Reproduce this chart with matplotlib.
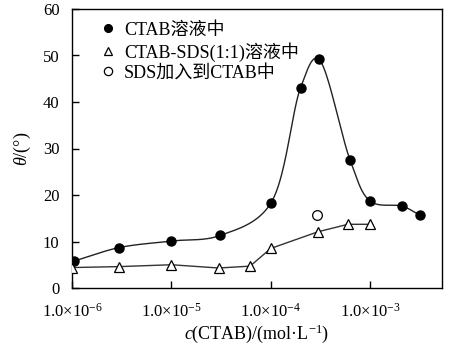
import numpy as np
import matplotlib
matplotlib.use("Agg")
import matplotlib.pyplot as plt

plt.rcParams['font.family'] = ['Liberation Serif', 'Noto Sans CJK SC']
plt.rcParams['mathtext.fontset'] = 'custom'
plt.rcParams['mathtext.rm'] = 'Liberation Serif'
plt.rcParams['mathtext.it'] = 'Liberation Serif:italic'
plt.rcParams['axes.unicode_minus'] = False

# ---- data ----
ctab_c = [1.05e-6, 3.0e-6, 1.0e-5, 3.1e-5, 1.0e-4, 2.0e-4, 3.05e-4, 6.3e-4, 1.0e-3, 2.1e-3, 3.15e-3]
ctab_theta = [5.8, 8.7, 10.1, 11.3, 18.2, 43.1, 49.2, 27.5, 18.7, 17.6, 15.7]

mix_c = [1.0e-6, 3.0e-6, 1.0e-5, 3.0e-5, 6.2e-5, 1.0e-4, 3.0e-4, 6.0e-4, 1.0e-3]
mix_theta = [4.4, 4.6, 5.0, 4.3, 4.7, 8.5, 12.1, 13.7, 13.7]

add_c = [2.95e-4]
add_theta = [15.6]

xticks = [1e-6, 1e-5, 1e-4, 1e-3]
xticklabels = [r'1.0×10$^{-6}$', r'1.0×10$^{-5}$', r'1.0×10$^{-4}$', r'1.0×10$^{-3}$']
yticks = [0, 10, 20, 30, 40, 50, 60]


def smooth_curve(xs, ys, n=40, alpha=0.25):
    # Catmull-Rom through the points, in log-x / pixel-like space
    sx, sy = 99.3, 4.65
    P = np.column_stack([np.log10(xs) * sx, np.array(ys) * sy])
    P = np.vstack([2 * P[0] - P[1], P, 2 * P[-1] - P[-2]])
    out = []
    for i in range(1, len(P) - 2):
        p0, p1, p2, p3 = P[i - 1], P[i], P[i + 1], P[i + 2]
        t0 = 0.0
        t1 = t0 + np.linalg.norm(p1 - p0) ** alpha
        t2 = t1 + np.linalg.norm(p2 - p1) ** alpha
        t3 = t2 + np.linalg.norm(p3 - p2) ** alpha
        t = np.linspace(t1, t2, n)[:, None]
        a1 = (t1 - t) / (t1 - t0) * p0 + (t - t0) / (t1 - t0) * p1
        a2 = (t2 - t) / (t2 - t1) * p1 + (t - t1) / (t2 - t1) * p2
        a3 = (t3 - t) / (t3 - t2) * p2 + (t - t2) / (t3 - t2) * p3
        b1 = (t2 - t) / (t2 - t0) * a1 + (t - t0) / (t2 - t0) * a2
        b2 = (t3 - t) / (t3 - t1) * a2 + (t - t1) / (t3 - t1) * a3
        c = (t2 - t) / (t2 - t1) * b1 + (t - t1) / (t2 - t1) * b2
        out.append(c)
    out = np.vstack(out)
    return 10 ** (out[:, 0] / sx), out[:, 1] / sy


fig = plt.figure(figsize=(4.63, 3.51), dpi=100)
ax = fig.add_axes([72 / 463, 63 / 351, 370 / 463, 279 / 351])

cx, cy = smooth_curve(ctab_c, ctab_theta)
ax.plot(cx, cy, color='#222222', lw=1.0, zorder=2)
ax.plot(mix_c, mix_theta, color='#333333', lw=1.0, zorder=2)
ax.plot(ctab_c, ctab_theta, 'o', color='black', ms=6.5, ls='none', zorder=3,
        label='CTAB溶液中')
ax.plot(mix_c, mix_theta, '^', mfc='white', mec='black', mew=0.9,
        ms=7, ls='none', zorder=3, label='CTAB-SDS(1:1)溶液中')
ax.plot(add_c, add_theta, 'o', mfc='white', mec='black', mew=0.9, ms=7, ls='none',
        zorder=3, label='SDS加入到CTAB中')

ax.set_xscale('log')
ax.set_xlim(1e-6, 5.3e-3)
ax.set_ylim(0, 60)
ax.set_xticks(xticks)
ax.set_xticklabels(xticklabels)
ax.minorticks_off()
ax.set_yticks(yticks)

ax.tick_params(axis='both', direction='in', length=5, width=1, labelsize=12)
ax.tick_params(axis='y', pad=9)
ax.tick_params(axis='x', pad=11)
for s in ax.spines.values():
    s.set_linewidth(1.0)

ax.set_xlabel(r'$\mathit{c}$(CTAB)/(mol·L$^{-1}$)', fontsize=13, labelpad=1)
ax.set_ylabel(r'$\mathit{\theta}$/(°)', fontsize=13, labelpad=7)

leg = ax.legend(loc='upper left', frameon=False, fontsize=13, handletextpad=0.35,
                handlelength=1.0, labelspacing=0.18, borderaxespad=0.3,
                markerscale=0.85, bbox_to_anchor=(0.04, 1.0))

fig.savefig('out.png', dpi=100)
